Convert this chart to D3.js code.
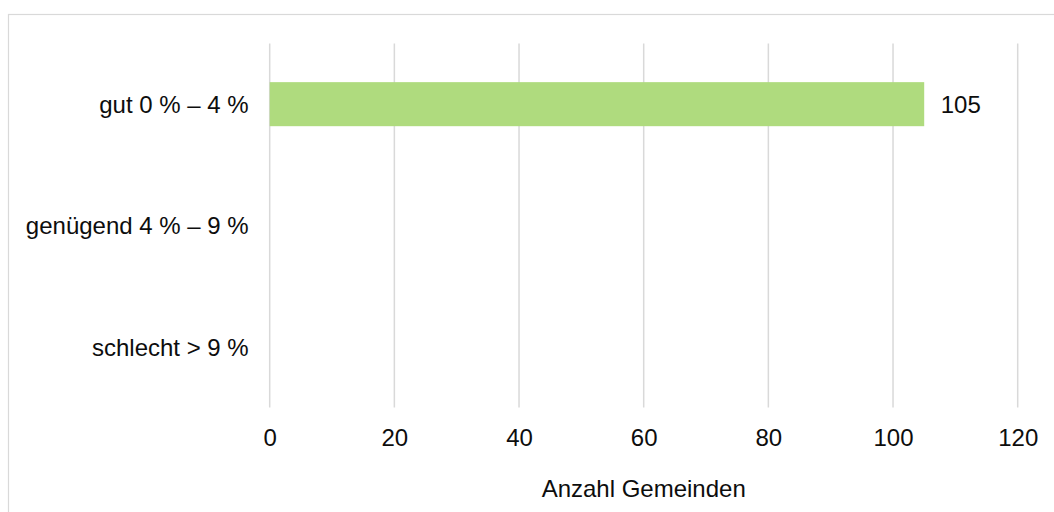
<!DOCTYPE html>
<html>
<head>
<meta charset="utf-8">
<script src="https://cdn.jsdelivr.net/npm/d3@7"></script>
<style>
  html, body { margin: 0; padding: 0; background: #fff; }
  svg { display: block; }
  text { font-family: "Liberation Sans", Arial, sans-serif; fill: #0d0d0d; }
</style>
</head>
<body>
<svg id="chart"></svg>
<script>
const WIDTH  = 1054
const HEIGHT = 512

// data
const categories = ['gut 0 % – 4 %', 'genügend 4 % – 9 %', 'schlecht > 9 %']
const counts     = [105, 0, 0]
const xTicks     = [0, 20, 40, 60, 80, 100, 120]
const axisTitle  = 'Anzahl Gemeinden'

const margin = { left: 269.7, right: 36.3, top: 43.5, bottom: 104.5 }
const FONT = 24

const svg = d3.select('#chart')
	.attr('width', WIDTH)
	.attr('height', HEIGHT);

// outer frame, runs off the right and bottom edge
svg.append('rect')
	.attr('x', 8.5)
	.attr('y', 14.5)
	.attr('width', WIDTH)
	.attr('height', HEIGHT)
	.attr('fill', 'none')
	.attr('stroke', '#d9d9d9')
	.attr('stroke-width', 1.2);

const x = d3.scaleLinear()
	.domain([0, 120])
	.range([margin.left, WIDTH - margin.right]);

const y = d3.scaleBand()
	.domain(categories)
	.range([margin.top, HEIGHT - margin.bottom])
	.paddingInner(0.637)
	.paddingOuter(0.3185);

// vertical gridlines
svg.append('g')
	.selectAll('line')
	.data(xTicks)
	.join('line')
	.attr('x1', d => x(d))
	.attr('x2', d => x(d))
	.attr('y1', margin.top)
	.attr('y2', HEIGHT - margin.bottom)
	.attr('stroke', '#d9d9d9')
	.attr('stroke-width', 1.5);

// bars
svg.append('g')
	.selectAll('rect')
	.data(counts)
	.join('rect')
	.attr('x', x(0))
	.attr('y', (d, i) => y(categories[i]))
	.attr('width', d => x(d) - x(0))
	.attr('height', y.bandwidth())
	.attr('fill', '#afdb7e');

// value labels
svg.append('g')
	.selectAll('text')
	.data(counts.map((v, i) => ({ v, c: categories[i] })).filter(d => d.v > 0))
	.join('text')
	.attr('x', d => x(d.v) + 16.5)
	.attr('y', d => y(d.c) + y.bandwidth() / 2 + 8.5)
	.attr('font-size', FONT)
	.text(d => d.v);

// category axis
const yAxis = svg.append('g')
	.attr('transform', `translate(${margin.left - 21},0)`)
	.call(d3.axisLeft(y).tickSize(0).tickPadding(0));
yAxis.select('.domain').remove();
yAxis.selectAll('text')
	.attr('font-size', FONT)
	.attr('font-family', null)
	.attr('dy', null)
	.attr('y', 8.7)
	.attr('fill', '#0d0d0d');

// value axis
const xAxis = svg.append('g')
	.attr('transform', `translate(0,${HEIGHT - margin.bottom})`)
	.call(d3.axisBottom(x).tickValues(xTicks).tickSize(0).tickPadding(0));
xAxis.select('.domain').remove();
xAxis.selectAll('text')
	.attr('font-size', FONT)
	.attr('font-family', null)
	.attr('dy', null)
	.attr('y', 38.2)
	.attr('fill', '#0d0d0d');

svg.append('text')
	.attr('x', (x(0) + x(120)) / 2)
	.attr('y', 496.7)
	.attr('text-anchor', 'middle')
	.attr('font-size', FONT)
	.text(axisTitle);
</script>
</body>
</html>
